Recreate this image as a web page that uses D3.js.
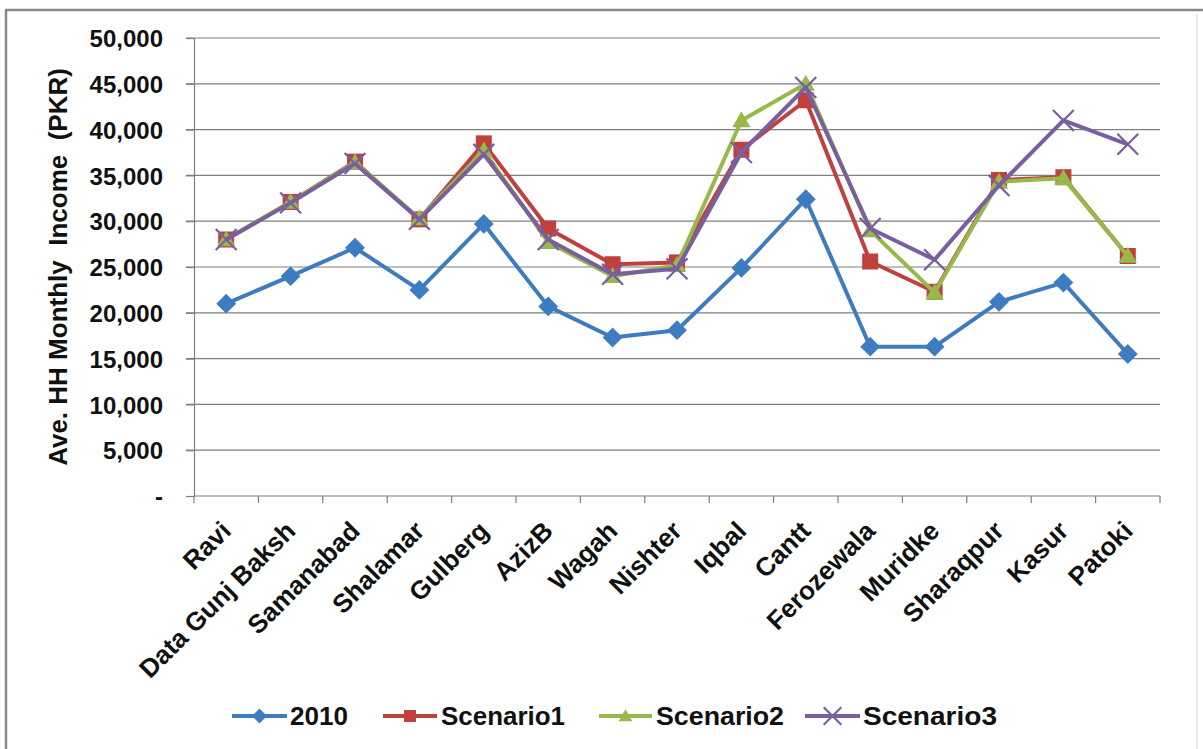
<!DOCTYPE html>
<html>
<head>
<meta charset="utf-8">
<script src="https://cdn.jsdelivr.net/npm/d3@7"></script>
<style>
  html, body { margin: 0; padding: 0; background: #ffffff; }
  svg { display: block; font-family: "Liberation Sans", Arial, sans-serif; }
</style>
</head>
<body>
<svg id="chart" width="1203" height="749"></svg>
<script>
// Districts along the x axis
const districts = ["Ravi", "Data Gunj Baksh", "Samanabad", "Shalamar", "Gulberg", "AzizB",
  "Wagah", "Nishter", "Iqbal", "Cantt", "Ferozewala", "Muridke", "Sharaqpur", "Kasur", "Patoki"];

// Average household monthly income (PKR)
const income2010 = [21000, 24000, 27100, 22500, 29700, 20700, 17300, 18100, 24900, 32400, 16300, 16300, 21200, 23300, 15500];
const scenario1  = [28000, 32100, 36500, 30200, 38500, 29200, 25300, 25500, 37800, 43200, 25600, 22300, 34500, 34800, 26200];
const scenario2  = [28000, 32100, 36400, 30300, 37700, 27700, 24000, 25200, 41000, 45000, 29000, 22200, 34300, 34700, 26200];
const scenario3  = [28000, 32000, 36300, 30200, 37300, 28000, 24200, 24800, 37500, 44600, 29200, 25800, 33900, 41000, 38400];

const seriesNames = ["2010", "Scenario1", "Scenario2", "Scenario3"];
const yTicks = [0, 5000, 10000, 15000, 20000, 25000, 30000, 35000, 40000, 45000, 50000];

const series = [
  { name: seriesNames[0], values: income2010, color: "#3e7cc2", marker: "diamond" },
  { name: seriesNames[1], values: scenario1,  color: "#c0403c", marker: "square" },
  { name: seriesNames[2], values: scenario2,  color: "#98b94a", marker: "triangle" },
  { name: seriesNames[3], values: scenario3,  color: "#7a5fa0", marker: "cross" }
];

const svg = d3.select("#chart");
const plot = { left: 194, right: 1160, top: 38, bottom: 496 };

// Outer chart frame
svg.append("line").attr("x1", 6).attr("x2", 6).attr("y1", 10).attr("y2", 749)
  .attr("stroke", "#8a8a8a").attr("stroke-width", 2.5);
svg.append("line").attr("x1", 5).attr("x2", 1203).attr("y1", 10).attr("y2", 10)
  .attr("stroke", "#8a8a8a").attr("stroke-width", 2.5);
svg.append("line").attr("x1", 1197).attr("x2", 1197).attr("y1", 14).attr("y2", 749)
  .attr("stroke", "#e4e4e4").attr("stroke-width", 1.5);

const x = d3.scaleBand().domain(districts).range([plot.left, plot.right]);
const y = d3.scaleLinear().domain([0, 50000]).range([plot.bottom, plot.top]);
const fmt = d3.format(",");

// Horizontal gridlines
svg.append("g")
  .selectAll("line")
  .data(yTicks.filter(t => t > 0))
  .join("line")
  .attr("x1", plot.left - 8).attr("x2", plot.right)
  .attr("y1", d => y(d)).attr("y2", d => y(d))
  .attr("stroke", "#7f7f7f").attr("stroke-width", 1.2);

// Y axis
const yAxis = svg.append("g")
  .attr("transform", `translate(${plot.left},0)`)
  .call(d3.axisLeft(y).tickValues(yTicks).tickSize(8).tickPadding(23)
    .tickFormat(d => d === 0 ? "-" : fmt(d)));
yAxis.select(".domain").attr("stroke", "#7f7f7f").attr("stroke-width", 1.2);
yAxis.selectAll(".tick line").attr("stroke", "#7f7f7f").attr("stroke-width", 1.2);
yAxis.selectAll(".tick text")
  .attr("fill", "#111").attr("font-size", 24).attr("font-weight", "bold")
  .attr("dy", "0.36em");

// X axis with ticks at category boundaries
const xAxisG = svg.append("g").attr("transform", `translate(0,${plot.bottom})`);
xAxisG.append("line").attr("x1", plot.left).attr("x2", plot.right)
  .attr("stroke", "#7f7f7f").attr("stroke-width", 1.2);
xAxisG.selectAll("line.tk")
  .data(d3.range(districts.length + 1))
  .join("line").attr("class", "tk")
  .attr("x1", i => plot.left + i * x.step()).attr("x2", i => plot.left + i * x.step())
  .attr("y1", 0).attr("y2", 7)
  .attr("stroke", "#7f7f7f").attr("stroke-width", 1.2);
xAxisG.selectAll("text")
  .data(districts)
  .join("text")
  .attr("transform", d => `translate(${x(d) + x.bandwidth() / 2},30) rotate(-45)`)
  .attr("text-anchor", "end")
  .attr("dy", "0.35em")
  .attr("font-size", 26).attr("font-weight", "bold")
  .attr("fill", "#111")
  .text(d => d);

// Y axis title
svg.append("text")
  .attr("transform", `translate(58,${267}) rotate(-90)`)
  .attr("text-anchor", "middle")
  .attr("dy", "0.35em")
  .attr("font-size", 26).attr("font-weight", "bold").attr("fill", "#111")
  .attr("xml:space", "preserve")
  .text("Ave. HH Monthly  Income  (PKR)");

// Marker shapes
function drawMarker(g, type, color, size) {
  if (type === "diamond") {
    const r = size * 0.62;
    g.append("path").attr("d", `M0,${-r}L${r},0L0,${r}L${-r},0Z`).attr("fill", color);
  } else if (type === "square") {
    g.append("rect").attr("x", -size / 2).attr("y", -size / 2)
      .attr("width", size).attr("height", size).attr("fill", color);
  } else if (type === "triangle") {
    const h = size * 0.95;
    g.append("path").attr("d", `M0,${-h * 0.6}L${h * 0.6},${h * 0.45}L${-h * 0.6},${h * 0.45}Z`)
      .attr("fill", color);
  } else if (type === "cross") {
    const s = size * 0.55;
    g.append("path").attr("d", `M${-s},${-s}L${s},${s}M${-s},${s}L${s},${-s}`)
      .attr("stroke", color).attr("stroke-width", 2.2).attr("fill", "none");
  }
}

const line = d3.line()
  .x((d, i) => x(districts[i]) + x.bandwidth() / 2)
  .y(d => y(d));

series.forEach(s => {
  const g = svg.append("g");
  g.append("path").datum(s.values)
    .attr("d", line)
    .attr("fill", "none").attr("stroke", s.color).attr("stroke-width", 4)
    .attr("stroke-linejoin", "round");
  s.values.forEach((v, i) => {
    const m = g.append("g")
      .attr("transform", `translate(${x(districts[i]) + x.bandwidth() / 2},${y(v)})`);
    drawMarker(m, s.marker, s.color, s.marker === "cross" ? 19 : 16);
  });
});

// Legend
const legendItems = [
  { x: 232, w: 55, tx: 290, tw: 58 },
  { x: 383, w: 54, tx: 441, tw: 124 },
  { x: 599, w: 53, tx: 656, tw: 128 },
  { x: 805, w: 55, tx: 863, tw: 134 }
];
const legend = svg.append("g").attr("transform", "translate(0,716)");
series.forEach((s, i) => {
  const it = legendItems[i];
  legend.append("line").attr("x1", it.x).attr("x2", it.x + it.w)
    .attr("stroke", s.color).attr("stroke-width", 4);
  const m = legend.append("g").attr("transform", `translate(${it.x + it.w / 2},0)`);
  drawMarker(m, s.marker, s.color, s.marker === "cross" ? 16 : 12);
  legend.append("text").attr("x", it.tx).attr("dy", "0.36em")
    .attr("font-size", 25).attr("font-weight", "bold").attr("fill", "#111")
    .attr("textLength", it.tw).attr("lengthAdjust", "spacingAndGlyphs")
    .text(s.name);
});
</script>
</body>
</html>
